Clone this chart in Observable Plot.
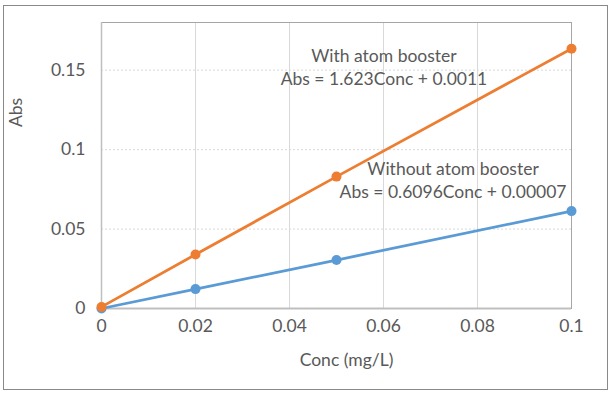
<!DOCTYPE html>
<html>
<head>
<meta charset="utf-8">
<script src="https://cdn.jsdelivr.net/npm/d3@7"></script>
<script src="https://cdn.jsdelivr.net/npm/@observablehq/plot@0.6"></script>
<style>
  html, body { margin: 0; padding: 0; background: #fff; }
  #wrap { position: relative; width: 611px; height: 394px; }
  #border { position: absolute; left: 3px; top: 5px; width: 605px; height: 385px; box-sizing: border-box; border: 1px solid #898989; pointer-events: none; }
</style>
</head>
<body>
<div id="wrap"><div id="border"></div></div>
<script>
// Data
const conc = [0, 0.02, 0.05, 0.1];
const absWith = [0.001, 0.034, 0.083, 0.1635];
const absWithout = [0, 0.0122, 0.0305, 0.0613];
const seriesNames = ["With atom booster", "Without atom booster"];
const seriesColors = ["#ED7D31", "#5B9BD5"];
const equations = ["Abs = 1.623Conc + 0.0011", "Abs = 0.6096Conc + 0.00007"];
const labelX = [0.0601, 0.0748];
const labelY = [0.1527, 0.0813];
const xTicks = [0, 0.02, 0.04, 0.06, 0.08, 0.1];
const xTickLabels = ["0", "0.02", "0.04", "0.06", "0.08", "0.1"];
const yTicks = [0, 0.05, 0.1, 0.15];
const yTickLabels = ["0", "0.05", "0.1", "0.15"];

const withData = conc.map((c, i) => ({x: c, y: absWith[i]}));
const withoutData = conc.map((c, i) => ({x: c, y: absWithout[i]}));
const labels = seriesNames.map((n, i) => ({x: labelX[i], y: labelY[i], text: n + "\n" + equations[i]}));

const textColor = "#595959";

const chart = Plot.plot({
  width: 611,
  height: 394,
  marginLeft: 101,
  marginRight: 40,
  marginTop: 22,
  marginBottom: 86,
  style: { fontFamily: "Lato, sans-serif", fontSize: "17px", color: textColor, background: "#fff" },
  x: { domain: [0, 0.1] },
  y: { domain: [0, 0.18] },
  marks: [
    Plot.ruleX(xTicks.filter(d => d > 0 && d < 0.1), { stroke: "#d9d9d9", strokeWidth: 1 }),
    Plot.ruleY(yTicks.filter(d => d > 0), { stroke: "#d9d9d9", strokeWidth: 1, strokeDasharray: "2,2" }),
    Plot.frame({ stroke: "#a6a6a6", strokeWidth: 1 }),
    Plot.ruleX([0], { stroke: "#bfbfbf", strokeWidth: 1.5 }),
    Plot.ruleY([0], { stroke: "#bfbfbf", strokeWidth: 2 }),
    Plot.axisX({ ticks: xTicks, tickFormat: (d, i) => xTickLabels[i], tickSize: 0, tickPadding: 11, fontSize: 17.5, fill: textColor, label: null }),
    Plot.axisY({ ticks: yTicks, tickFormat: (d, i) => yTickLabels[i], tickSize: 0, tickPadding: 16, fontSize: 17.5, fill: textColor, label: null }),
    Plot.text(["Conc (mg/L)"], { frameAnchor: "bottom", dx: 10, dy: 52, fill: textColor, fontSize: 17.5, textAnchor: "middle", lineAnchor: "middle" }),
    Plot.text(["Abs"], { frameAnchor: "top-left", dx: -85, dy: 90, rotate: -90, fill: textColor, fontSize: 17.5, textAnchor: "middle", lineAnchor: "middle" }),
    Plot.line(withoutData, { x: "x", y: "y", stroke: seriesColors[1], strokeWidth: 2.75 }),
    Plot.line(withData, { x: "x", y: "y", stroke: seriesColors[0], strokeWidth: 2.75 }),
    Plot.dot(withoutData, { x: "x", y: "y", r: 5, fill: seriesColors[1], stroke: "none" }),
    Plot.dot(withData, { x: "x", y: "y", r: 5, fill: seriesColors[0], stroke: "none" }),
    Plot.text(labels, { x: "x", y: "y", text: "text", fill: textColor, fontSize: 17.5, lineHeight: 1.33, textAnchor: "middle", lineAnchor: "middle" })
  ]
});
document.getElementById("wrap").prepend(chart);
</script>
</body>
</html>
